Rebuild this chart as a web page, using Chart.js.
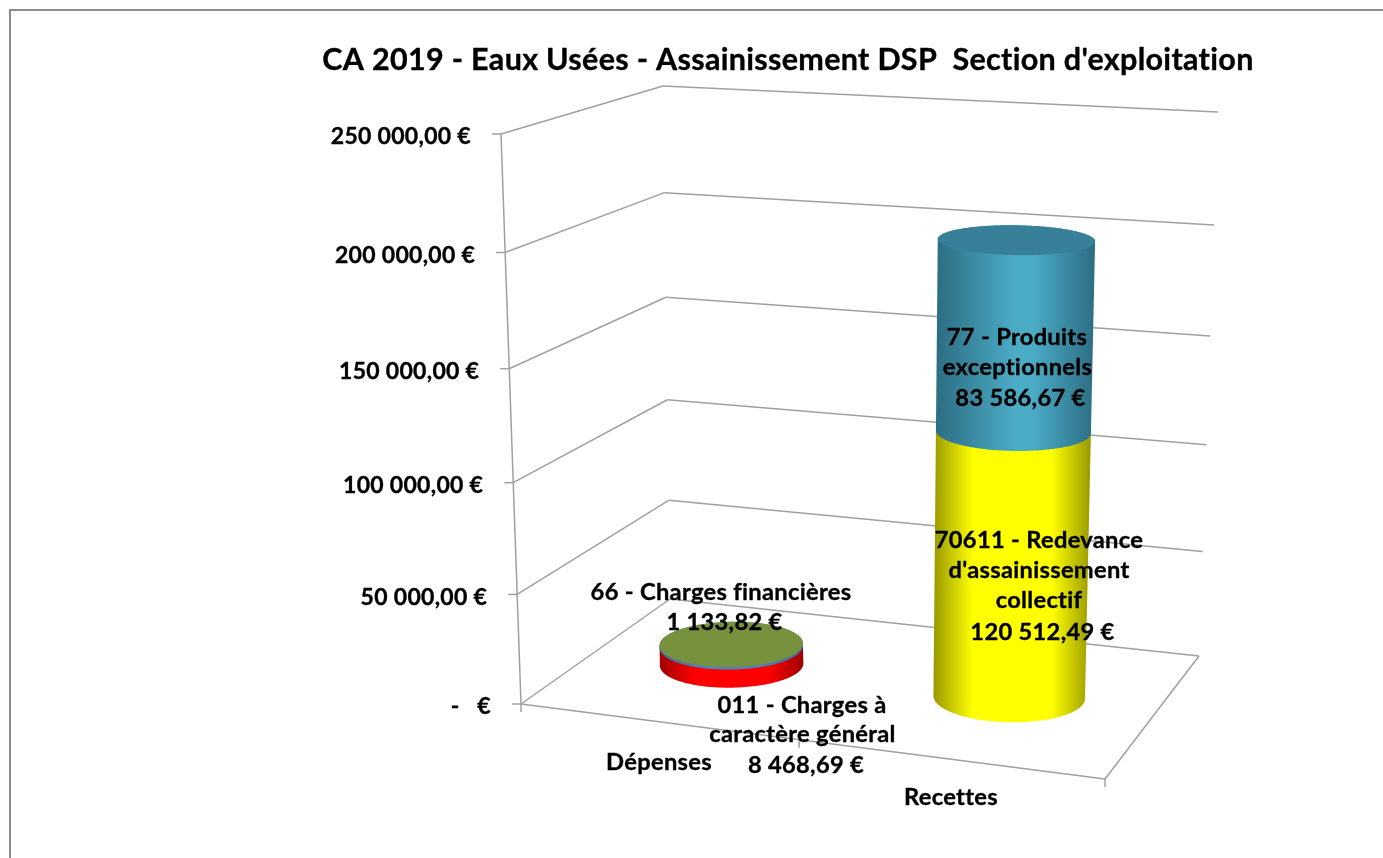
<!DOCTYPE html>
<html lang="fr">
<head>
<meta charset="utf-8">
<title>CA 2019 - Eaux Usées - Assainissement DSP</title>
<script src="https://cdn.jsdelivr.net/npm/chart.js@4"></script>
<style>
html,body{margin:0;padding:0;background:#fff;overflow:hidden}
canvas{display:block}
</style>
</head>
<body>
<canvas id="c" width="1383" height="858"></canvas>
<script>
// ---- Data ----
const chartTitle = "CA 2019 - Eaux Usées - Assainissement DSP  Section d'exploitation";
const categories = ["Dépenses", "Recettes"];
const charges011 = [8468.69, 0];
const charges66 = [1133.82, 0];
const redevance70611 = [0, 120512.49];
const produits77 = [0, 83586.67];
const yMax = 250000;
const yStep = 50000;
const label011 = ["011 - Charges à", "caractère général", "8 468,69 €"];
const label66 = ["66 - Charges financières", "1 133,82 €"];
const label70611 = ["70611 - Redevance", "d'assainissement", "collectif", "120 512,49 €"];
const label77 = ["77 - Produits", "exceptionnels", "83 586,67 €"];

// ---- Layout of the 3D box on the page ----
const FONT = 'Lato, "Noto Sans", sans-serif';
const box = {
  fl:[521,704], fr:[1105,779], br:[1199,656], bl:[670,599],
  flTop:[501,134], frTop:[1146,177], blTop:[663,86], brTop:[1218,112]
};
const PERSPECTIVE = 1.05;
const R_DEPTH = 0.2;
const CYL_SHIFT = 0.004;
const RADIUS_TAPER = 0.06;
const labelPlaces = [
  [[802,705],[802.5,734],[806,765]],
  [[721,592],[724.5,622]],
  [[1039,540],[1039,570],[1039,600],[1042.5,632]],
  [[1017,337],[1017.5,367],[1020.5,398]]
];
const catPlaces = [[659,762],[951,797]];
const looks = [
  {edge:'#a00000', mid:'#ff0000', peak:[.25,.75], cap:null},
  {edge:'#3f6a9e', mid:'#4f81bd', peak:[.3,.7], cap:'#76923c'},
  {edge:'#989800', mid:'#ffff00', peak:[.25,.75], cap:null},
  {edge:'#2c6d83', mid:'#4bacc6', peak:[.5,.6], cap:'#38809a'}
];

function quadMatrix(p0,p1,p2,p3){
  const dx1=p1[0]-p2[0], dx2=p3[0]-p2[0], sx=p0[0]-p1[0]+p2[0]-p3[0];
  const dy1=p1[1]-p2[1], dy2=p3[1]-p2[1], sy=p0[1]-p1[1]+p2[1]-p3[1];
  const den=dx1*dy2-dx2*dy1;
  const g=(sx*dy2-dx2*sy)/den, h=(dx1*sy-sx*dy1)/den;
  return [[p1[0]-p0[0]+g*p1[0], p3[0]-p0[0]+h*p3[0], p0[0]],
          [p1[1]-p0[1]+g*p1[1], p3[1]-p0[1]+h*p3[1], p0[1]],
          [g,h,1]];
}
const H0 = quadMatrix(box.fl,box.fr,box.br,box.bl);
const H1 = quadMatrix(box.flTop,box.frTop,box.brTop,box.blTop);
function applyM(H,u,w){
  const d=H[2][0]*u+H[2][1]*w+H[2][2];
  return [(H[0][0]*u+H[0][1]*w+H[0][2])/d,(H[1][0]*u+H[1][1]*w+H[1][2])/d];
}
function project(u,w,t){
  const a=applyM(H0,u,w), b=applyM(H1,u,w);
  const s=t/(t+(1-t)*PERSPECTIVE);
  return [a[0]+(b[0]-a[0])*s, a[1]+(b[1]-a[1])*s];
}
function line(ctx,a,b){ctx.beginPath();ctx.moveTo(a[0],a[1]);ctx.lineTo(b[0],b[1]);ctx.stroke();}
function text(ctx,s,x,y,size,align){
  ctx.font='bold '+size+'px '+FONT;
  ctx.letterSpacing='0.3px';
  ctx.textAlign=align||'center';ctx.textBaseline='middle';
  ctx.fillStyle='#000';ctx.strokeStyle='#000';ctx.lineWidth=0.35;ctx.lineJoin='round';
  ctx.fillText(s,x,y);ctx.strokeText(s,x,y);
}

const scene3d = {
  id:'scene3d',
  afterDatasetsDraw(chart){
    const ctx=chart.ctx, ys=chart.scales.y, xs=chart.scales.x;
    const toT=px=>(ys.bottom-px)/(ys.bottom-ys.top);
    const toU=px=>(px-xs.left)/(xs.right-xs.left);
    ctx.save();
    // outer frame
    ctx.strokeStyle='#8c8c8c';ctx.lineWidth=2;
    ctx.beginPath();ctx.moveTo(10,858);ctx.lineTo(10,10);ctx.lineTo(1383,10);ctx.stroke();
    // walls and floor
    ctx.strokeStyle='#a0a0a0';ctx.lineWidth=1.5;
    ys.ticks.forEach(tk=>{
      const t=toT(ys.getPixelForValue(tk.value));
      const a=project(0,0,t), b=project(0,1,t), c=project(1,1,t);
      line(ctx,[a[0]-9,a[1]],a);
      line(ctx,a,b);line(ctx,b,c);
    });
    line(ctx,project(0,0,0),project(0,0,1));
    line(ctx,project(0,0,0),project(1,0,0));
    line(ctx,project(1,0,0),project(1,1,0));
    // category tick marks
    [0,.5,1].forEach(u=>{const p=project(u,0,0);line(ctx,p,[p[0],p[1]+8]);});
    // cylinders
    chart.data.datasets.forEach((ds,di)=>{
      const meta=chart.getDatasetMeta(di), look=looks[di];
      meta.data.forEach((bar,i)=>{
        if(!ds.data[i]) return;
        const uc=toU(bar.x)+CYL_SHIFT, ru=bar.width/2/(xs.right-xs.left);
        const t0=toT(bar.base), t1=toT(bar.y);
        const ring=t=>{const r=ru*(1-RADIUS_TAPER*t);const pts=[];for(let k=0;k<360;k++){const a=k*Math.PI/180;pts.push(project(uc+r*Math.cos(a),.5+R_DEPTH*Math.sin(a),t));}return pts;};
        const lo=ring(t0), hi=ring(t1);
        const ext=(pts,sign)=>{let best=0;pts.forEach((p,k)=>{if(sign*p[0]>sign*pts[best][0])best=k;});return best;};
        const loL=ext(lo,-1), loR=ext(lo,1), hiL=ext(hi,-1), hiR=ext(hi,1);
        ctx.beginPath();
        for(let k=loL;;k=(k+1)%360){const p=lo[k];ctx.lineTo(p[0],p[1]);if(k===loR)break;}
        for(let k=hiR;;k=(k+1)%360){const p=hi[k];ctx.lineTo(p[0],p[1]);if(k===hiL)break;}
        ctx.closePath();
        const xa=Math.min(lo[loL][0],hi[hiL][0]), xb=Math.max(lo[loR][0],hi[hiR][0]);
        const g=ctx.createLinearGradient(xa,0,xb,0);
        g.addColorStop(0,look.edge);g.addColorStop(look.peak[0],look.mid);g.addColorStop(look.peak[1],look.mid);g.addColorStop(1,look.edge);
        ctx.fillStyle=g;ctx.fill();
        if(look.cap){
          ctx.beginPath();hi.forEach(p=>ctx.lineTo(p[0],p[1]));ctx.closePath();
          ctx.fillStyle=look.cap;ctx.fill();
        }
      });
    });
    // texts
    text(ctx,chartTitle,788,60,30.5);
    ys.ticks.forEach(tk=>{
      const t=toT(ys.getPixelForValue(tk.value)), a=project(0,0,t);
      text(ctx,tk.label,a[0]-30,a[1]+3,23,'right');
    });
    chart.data.datasets.forEach((ds,di)=>{
      ds.labelLines.forEach((s,k)=>text(ctx,s,labelPlaces[di][k][0],labelPlaces[di][k][1],23.7));
    });
    chart.data.labels.forEach((s,i)=>text(ctx,s,catPlaces[i][0],catPlaces[i][1],23.7));
    ctx.restore();
  }
};

function money(v){
  if(v===0) return '-   €';
  return String(v/1000)+' 000,00 €';
}
const transparent='rgba(0,0,0,0)';
const mk=(label,data,labelLines)=>({label,data,labelLines,backgroundColor:transparent,borderWidth:0,stack:'s',barPercentage:.5,categoryPercentage:1});

new Chart(document.getElementById('c'),{
  type:'bar',
  data:{labels:categories,datasets:[
    mk('011 - Charges à caractère général',charges011,label011),
    mk('66 - Charges financières',charges66,label66),
    mk('70611 - Redevance d\'assainissement collectif',redevance70611,label70611),
    mk('77 - Produits exceptionnels',produits77,label77)
  ]},
  options:{
    responsive:false,animation:false,
    layout:{padding:{left:521,top:134,right:1383-1105,bottom:858-704}},
    plugins:{legend:{display:false},tooltip:{enabled:false},title:{display:false}},
    scales:{
      x:{stacked:true,grid:{display:false},border:{display:false},ticks:{display:false}},
      y:{stacked:true,min:0,max:yMax,grid:{display:false,drawTicks:false},border:{display:false},
         ticks:{display:false,stepSize:yStep,callback:money}}
    }
  },
  plugins:[scene3d]
});
</script>
</body>
</html>
